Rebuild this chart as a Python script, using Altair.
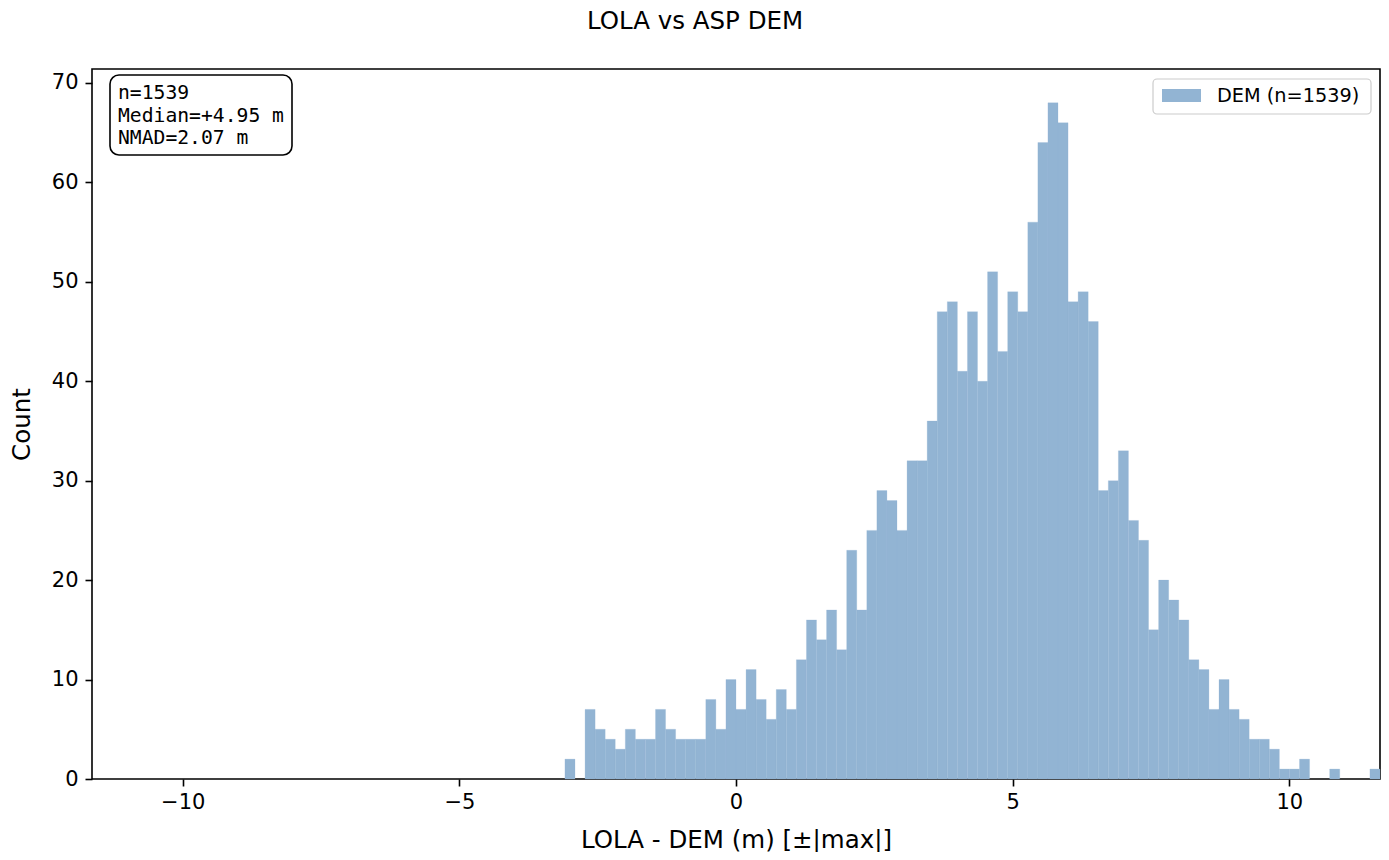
import altair as alt
import pandas as pd

# ---- data ----
X_MAX = 11.64            # symmetric x range  [-|max|, +|max|]
N_BINS = 128             # equal-width bins over the range
FIRST_BIN = 47           # index of the first bin listed in COUNTS
COUNTS = [2, 0, 7, 5, 4, 3, 5, 4, 4, 7, 5, 4, 4, 4,
          8, 5, 10, 7, 11, 8, 6, 9, 7, 12,
          16, 14, 17, 13, 23, 17, 25, 29, 28, 25,
          32, 32, 36, 47, 48, 41, 47, 40, 51, 43,
          49, 47, 56, 64, 68, 66, 48, 49, 46, 29,
          30, 33, 26, 24, 15, 20, 18, 16, 12, 11,
          7, 10, 7, 6, 4, 4, 3, 1, 1, 2, 0, 0, 1, 0, 0, 0, 1]
X_TICKS = [-10, -5, 0, 5, 10]
Y_TICKS = [0, 10, 20, 30, 40, 50, 60, 70]
Y_MAX = 71.4
STATS_LINES = ["n=1539", "Median=+4.95 m", "NMAD=2.07 m"]
LEGEND_LABEL = "DEM (n=1539)"
TITLE = "LOLA vs ASP DEM"
X_TITLE = "LOLA - DEM (m) [±|max|]"
Y_TITLE = "Count"

W, H = 1288, 710
FONT = "DejaVu Sans"
MONO = "DejaVu Sans Mono"
BAR = "#92b4d3"

width_bin = 2 * X_MAX / N_BINS
df = pd.DataFrame({
    "lo": [-X_MAX + (FIRST_BIN + i) * width_bin for i in range(len(COUNTS))],
    "hi": [-X_MAX + (FIRST_BIN + i + 1) * width_bin for i in range(len(COUNTS))],
    "count": COUNTS,
})
df = df[df["count"] > 0]

bars = alt.Chart(df).mark_rect(
    color=BAR, stroke=BAR, strokeWidth=0.4, strokeOpacity=0.6,
).encode(
    x=alt.X("lo:Q",
            scale=alt.Scale(domain=[-X_MAX, X_MAX], nice=False, zero=False),
            axis=alt.Axis(values=X_TICKS, format="d", title=X_TITLE,
                          titleX=W / 2, titleY=61, titleAlign="center",
                          titleBaseline="middle", labelPadding=5)),
    x2="hi:Q",
    y=alt.Y("count:Q",
            scale=alt.Scale(domain=[0, Y_MAX], nice=False),
            axis=alt.Axis(values=Y_TICKS, format="d", title=Y_TITLE,
                          titleX=-70, titleY=H / 2, titleAngle=270,
                          titleAlign="center", titleBaseline="middle",
                          labelPadding=7)),
    y2=alt.datum(0),
)

one = pd.DataFrame({"a": [0]})

title = alt.Chart(one).mark_text(
    text=TITLE, font=FONT, fontSize=24.5, color="black",
    align="center", baseline="middle",
).encode(x=alt.value(603), y=alt.value(-47))

stats_box = alt.Chart(one).mark_rect(
    fill="white", stroke="black", strokeWidth=1.6, cornerRadius=9,
).encode(x=alt.value(18), x2=alt.value(200), y=alt.value(6), y2=alt.value(86))

stats_text = alt.Chart(one).mark_text(
    text="\n".join(STATS_LINES), lineBreak="\n", lineHeight=22.5,
    font=MONO, fontSize=19.7, color="black", align="left", baseline="alphabetic",
).encode(x=alt.value(26), y=alt.value(30))

legend_box = alt.Chart(one).mark_rect(
    fill="white", fillOpacity=0.8, stroke="#cccccc", strokeWidth=1.2, cornerRadius=4,
).encode(x=alt.value(1061), x2=alt.value(1279), y=alt.value(10), y2=alt.value(45))

legend_swatch = alt.Chart(one).mark_rect(fill=BAR).encode(
    x=alt.value(1070), x2=alt.value(1109), y=alt.value(20), y2=alt.value(33))

legend_text = alt.Chart(one).mark_text(
    text=LEGEND_LABEL, font=FONT, fontSize=19.3, color="black",
    align="left", baseline="middle",
).encode(x=alt.value(1125), y=alt.value(27))

chart = alt.layer(
    bars, stats_box, stats_text, legend_box, legend_swatch, legend_text, title
).properties(
    width=W, height=H,
    autosize=alt.AutoSizeParams(type="none"),
    padding={"left": 84, "top": 61, "right": 1, "bottom": 73},
).configure_view(
    stroke="black", strokeWidth=1.6,
).configure_axis(
    domain=False, grid=False,
    labelFont=FONT, labelFontSize=21, labelColor="black",
    tickColor="black", tickSize=7, tickWidth=1.6,
    titleFont=FONT, titleFontSize=24.5, titleFontWeight="normal", titleColor="black",
)

chart.save("out.html", embed_options={"renderer": "svg", "actions": False})
